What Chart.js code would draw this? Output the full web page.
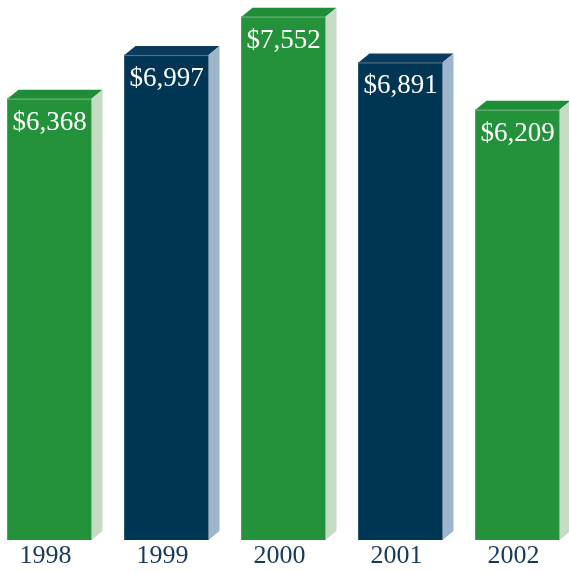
<!DOCTYPE html>
<html><head><meta charset="utf-8">
<script src="https://cdn.jsdelivr.net/npm/chart.js@4"></script>
<style>html,body{margin:0;padding:0;background:#fff;overflow:hidden}#wrap{width:585px;height:572px;position:absolute;left:-9px;top:0}</style>
</head><body><div id="wrap"><canvas id="c"></canvas></div>
<script>
const years = ['1998', '1999', '2000', '2001', '2002'];
const revenue = [6368, 6997, 7552, 6891, 6209];
const valueLabels = ['$6,368', '$6,997', '$7,552', '$6,891', '$6,209'];
const frontColors = ['#23923b', '#003554', '#23923b', '#003554', '#23923b'];
const topColors = ['#1f8c37', '#0b3b5c', '#1f8c37', '#0b3b5c', '#1f8c37'];
const sideColors = ['#c3dcc3', '#9eb5cc', '#c3dcc3', '#9eb5cc', '#c3dcc3'];
const DX = 11, DY = 9;

const bar3d = {
  id: 'bar3d',
  afterDatasetsDraw(chart) {
    const ctx = chart.ctx;
    const meta = chart.getDatasetMeta(0);
    meta.data.forEach((bar, i) => {
      const p = bar.getProps(['x', 'y', 'base', 'width'], true);
      const l = p.x - p.width / 2, r = p.x + p.width / 2, t = p.y, b = p.base;
      ctx.save();
      ctx.fillStyle = topColors[i];
      ctx.beginPath();
      ctx.moveTo(l, t); ctx.lineTo(l + DX, t - DY); ctx.lineTo(r + DX, t - DY); ctx.lineTo(r, t); ctx.closePath();
      ctx.fill();
      ctx.fillStyle = sideColors[i];
      ctx.beginPath();
      ctx.moveTo(r, t); ctx.lineTo(r + DX, t - DY); ctx.lineTo(r + DX, b - DY); ctx.lineTo(r, b); ctx.closePath();
      ctx.fill();
      ctx.strokeStyle = 'rgba(255,255,255,0.35)';
      ctx.lineWidth = 1;
      ctx.beginPath(); ctx.moveTo(l, t + 0.5); ctx.lineTo(r, t + 0.5); ctx.stroke();
      ctx.fillStyle = '#ffffff';
      ctx.font = '27px "Liberation Serif", serif';
      ctx.textAlign = 'center';
      ctx.textBaseline = 'alphabetic';
      ctx.fillText(valueLabels[i], p.x, t + 31);
      ctx.restore();
    });
  }
};

new Chart(document.getElementById('c'), {
  type: 'bar',
  data: {
    labels: years,
    datasets: [{
      data: revenue,
      backgroundColor: frontColors,
      borderWidth: 0,
      barThickness: 84
    }]
  },
  options: {
    responsive: true,
    maintainAspectRatio: false,
    animation: false,
    layout: { padding: 0 },
    plugins: { legend: { display: false }, tooltip: { enabled: false } },
    scales: {
      y: { display: false, min: 0, max: 7792 },
      x: {
        grid: { display: false, drawTicks: false },
        border: { display: false },
        ticks: {
          color: '#17395c',
          font: { family: '"Liberation Serif", serif', size: 26 },
          padding: 1,
          labelOffset: -4
        },
        afterFit(axis) { axis.height = 32; }
      }
    }
  },
  plugins: [bar3d]
});
</script>
</body></html>
